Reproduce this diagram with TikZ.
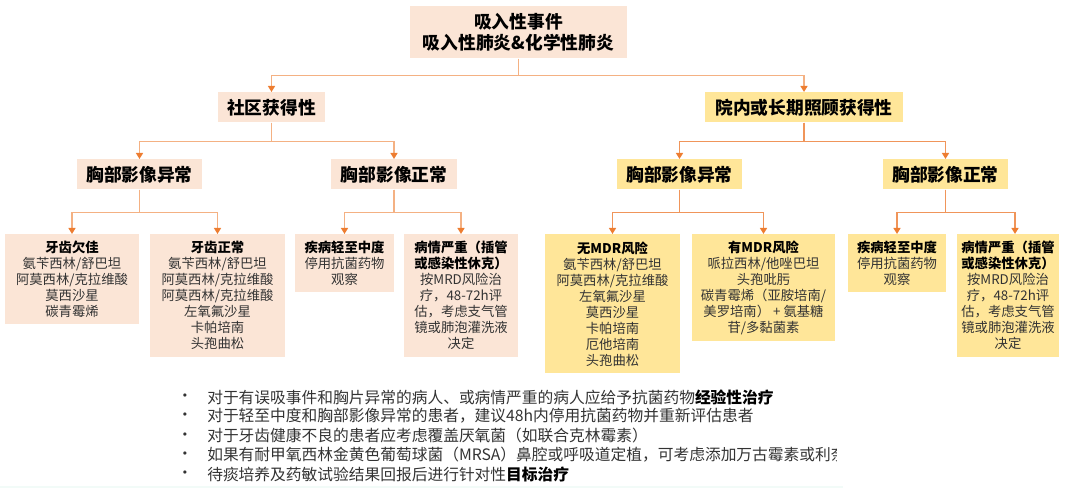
\documentclass[tikz,border=0pt]{standalone}
\usepackage{fontspec}
\setmainfont{Noto Sans CJK SC}
\usetikzlibrary{arrows.meta}
\definecolor{peach}{HTML}{FBE5D6}
\definecolor{gold}{HTML}{FFE699}
\definecolor{lineL}{HTML}{F4B183}
\definecolor{lineR}{HTML}{F0955A}
\definecolor{tipc}{HTML}{ED7D31}
\definecolor{txt}{HTML}{333333}
\definecolor{band}{HTML}{F2FBF8}
\newcommand\boxttl[1]{\textcolor{black}{\bfseries #1}}

\begin{document}
\begin{tikzpicture}[x=0.75pt,y=-0.75pt,
  box/.style={inner sep=0pt, anchor=north, align=center, text=txt, font=\fontsize{10}{12}\selectfont},
  pbox/.style={box, fill=peach},
  ybox/.style={box, fill=gold},
  head/.style={font=\fontsize{13.3}{16}\selectfont\bfseries, text=black, minimum height=22.5pt},
  conn/.style={line width=1.1pt, -{Triangle[width=5.2pt,length=4.5pt,color=tipc]}},
  bul/.style={inner sep=0pt, text=txt, font=\fontsize{11.8}{14}\selectfont},
  btxt/.style={bul, anchor=west}]
\useasboundingbox (0,0) rectangle (1080,488);
\node[pbox, head, minimum width=162.75pt, minimum height=39pt] (top) at (518.5,6) {吸入性事件\\吸入性肺炎\&化学性肺炎};
\node[pbox, head, minimum width=80.25pt] (shequ) at (271.5,92) {社区获得性};
\node[ybox, head, minimum width=148.5pt] (yuan) at (804,92) {院内或长期照顾获得性};
\node[pbox, head, minimum width=93.75pt] (Labn) at (139.5,159) {胸部影像异常};
\node[pbox, head, minimum width=94.5pt] (Lnor) at (394,159) {胸部影像正常};
\node[ybox, head, minimum width=93.75pt] (Rabn) at (679.5,159) {胸部影像异常};
\node[ybox, head, minimum width=93.75pt] (Rnor) at (945.5,159) {胸部影像正常};
\node[pbox, minimum width=100.5pt, minimum height=67.5pt] (qj) at (72,234) {\boxttl{牙齿欠佳}\\氨苄西林/舒巴坦\\阿莫西林/克拉维酸\\莫西沙星\\碳青霉烯};
\node[pbox, minimum width=101.25pt, minimum height=92.25pt] (zc) at (217.5,234) {\boxttl{牙齿正常}\\氨苄西林/舒巴坦\\阿莫西林/克拉维酸\\阿莫西林/克拉维酸\\左氧氟沙星\\卡帕培南\\头孢曲松};
\node[pbox, minimum width=74.25pt, minimum height=43.5pt] (Lmild) at (344.5,234) {\boxttl{疾病轻至中度}\\停用抗菌药物\\观察};
\node[pbox, minimum width=85.5pt, minimum height=92.25pt] (Lsev) at (461,234) {\boxttl{病情严重（插管}\\\boxttl{或感染性休克）}\\按MRD风险治\\疗，48-72h评\\估，考虑支气管\\镜或肺泡灌洗液\\决定};
\node[ybox, minimum width=101.25pt, minimum height=104.25pt] (nomdr) at (612.5,234) {\boxttl{无MDR风险}\\氨苄西林/舒巴坦\\阿莫西林/克拉维酸\\左氧氟沙星\\莫西沙星\\卡帕培南\\厄他培南\\头孢曲松};
\node[ybox, minimum width=107.25pt, minimum height=80.25pt] (mdr) at (763.5,234) {\boxttl{有MDR风险}\\哌拉西林/他唑巴坦\\头孢吡肟\\碳青霉烯（亚胺培南/\\美罗培南） + 氨基糖\\苷/多黏菌素};
\node[ybox, minimum width=73.5pt, minimum height=43.5pt] (Rmild) at (897,234) {\boxttl{疾病轻至中度}\\停用抗菌药物\\观察};
\node[ybox, minimum width=76.5pt, minimum height=92.25pt] (Rsev) at (1008,234) {\boxttl{病情严重（插管}\\\boxttl{或感染性休克）}\\按MRD风险治\\疗，48-72h评\\估，考虑支气管\\镜或肺泡灌洗液\\决定};
\draw[conn, lineL] (top.south) -- ++(0,17) -| (shequ.north);
\draw[conn, lineL] (top.south) -- ++(0,17) -| (yuan.north);
\draw[conn, lineL] (shequ.south) -- ++(0,19) -| (Labn.north);
\draw[conn, lineL] (shequ.south) -- ++(0,19) -| (Lnor.north);
\draw[conn, lineR] (yuan.south) -- ++(0,19) -| (Rabn.north);
\draw[conn, lineR] (yuan.south) -- ++(0,19) -| (Rnor.north);
\draw[conn, lineL] (Labn.south) -- ++(0,23) -| (qj.north);
\draw[conn, lineL] (Labn.south) -- ++(0,23) -| (zc.north);
\draw[conn, lineL] (Lnor.south) -- ++(0,23) -| (Lmild.north);
\draw[conn, lineL] (Lnor.south) -- ++(0,23) -| (Lsev.north);
\draw[conn, lineR] (Rabn.south) -- ++(0,23) -| (nomdr.north);
\draw[conn, lineR] (Rabn.south) -- ++(0,23) -| (mdr.north);
\draw[conn, lineR] (Rnor.south) -- ++(0,23) -| (Rmild.north);
\draw[conn, lineR] (Rnor.south) -- ++(0,23) -| ([xshift=5.25pt]Rsev.north);
\node[bul] (d1) at (185,398) {\textbullet};
\node[bul] (d2) at (185,417) {\textbullet};
\node[bul] (d3) at (185,437) {\textbullet};
\node[bul] (d4) at (185,456) {\textbullet};
\node[bul] (d5) at (185,475) {\textbullet};
\node[btxt] (t1) at (207,397) {对于有误吸事件和胸片异常的病人、或病情严重的病人应给予抗菌药物\textcolor{black}{\bfseries 经验性治疗}};
\node[btxt] (t2) at (207,416) {对于轻至中度和胸部影像异常的患者，建议48h内停用抗菌药物并重新评估患者};
\node[btxt] (t3) at (207,436) {对于牙齿健康不良的患者应考虑覆盖厌氧菌（如联合克林霉素）};
\begin{scope}
\clip (0,440) rectangle (836,470);
\node[btxt] (t4) at (207,455) {如果有耐甲氧西林金黄色葡萄球菌（MRSA）鼻腔或呼吸道定植，可考虑添加万古霉素或利奈唑胺};
\end{scope}
\node[btxt] (t5) at (207,474) {待痰培养及药敏试验结果回报后进行针对性\textcolor{black}{\bfseries 目标治疗}};
\fill[band] (0,486) rectangle (843,488);
\end{tikzpicture}
\end{document}
